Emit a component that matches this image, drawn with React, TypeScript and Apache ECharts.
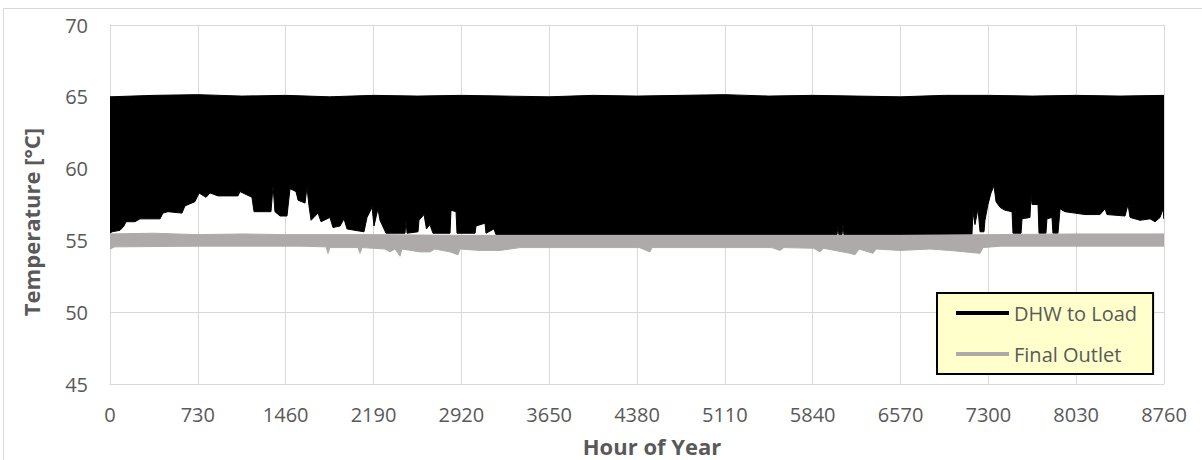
import React, { useEffect, useRef } from 'react';
import * as echarts from 'echarts';

// ---- Data ----
const xMax = 8760;
const xInterval = 730;
const yMin = 45;
const yMax = 70;
const yInterval = 5;

// DHW to Load: the hourly series oscillates rapidly; its upper and lower envelopes
const dhwUpperHours = [0, 365, 730, 1095, 1460, 1825, 2190, 2555, 2920, 3285, 3650, 4015, 4380, 4745, 5110, 5475, 5840, 6205, 6570, 6935, 7300, 7665, 8030, 8395, 8760];
const dhwUpperTemps = [65.0, 65.1, 65.15, 65.05, 65.1, 65.0, 65.1, 65.05, 65.1, 65.05, 65.0, 65.1, 65.05, 65.1, 65.15, 65.05, 65.1, 65.05, 65.0, 65.1, 65.1, 65.05, 65.1, 65.05, 65.1];

const dhwLowerHours = [0, 17, 83, 116, 133, 208, 249, 416, 440, 482, 598, 623, 706, 740, 798, 831, 898, 1064, 1080, 1180, 1197, 1338, 1355, 1371, 1413, 1471, 1496, 1546, 1563, 1621, 1637, 1654, 1671, 1729, 1754, 1828, 1853, 1912, 1945, 1970, 2036, 2111, 2136, 2178, 2194, 2227, 2244, 2294, 2452, 2460, 2469, 2560, 2568, 2610, 2630, 2659, 2684, 2826, 2834, 2876, 2884, 3034, 3042, 3117, 3125, 3191, 3208, 6042, 6050, 6058, 6084, 6092, 6100, 7164, 7172, 7189, 7214, 7231, 7264, 7272, 7297, 7322, 7347, 7364, 7397, 7439, 7497, 7505, 7572, 7580, 7646, 7655, 7663, 7713, 7721, 7779, 7787, 7829, 7837, 7879, 7896, 7937, 8020, 8103, 8228, 8270, 8286, 8436, 8461, 8478, 8561, 8644, 8686, 8727, 8752, 8760];
const dhwLowerTemps = [55.5, 55.6, 55.7, 56.0, 56.3, 56.3, 56.5, 56.5, 56.9, 57.0, 56.9, 57.4, 57.7, 58.3, 58.0, 58.3, 58.1, 58.1, 58.4, 58.0, 57.0, 57.0, 58.8, 57.0, 56.7, 56.7, 58.6, 58.4, 57.8, 57.6, 58.7, 57.4, 56.4, 56.9, 56.3, 56.6, 55.9, 56.0, 56.5, 55.8, 55.7, 55.6, 56.6, 57.3, 56.0, 57.2, 56.4, 55.5, 55.5, 56.4, 55.5, 55.6, 56.4, 56.8, 55.8, 56.1, 55.5, 55.5, 57.1, 57.0, 55.5, 55.5, 56.0, 56.2, 55.5, 55.8, 55.4, 55.4, 56.0, 55.4, 55.4, 56.1, 55.4, 55.4, 57.0, 56.1, 57.2, 55.6, 55.6, 56.4, 57.5, 58.3, 58.8, 57.7, 57.3, 57.1, 57.0, 55.5, 55.5, 56.5, 56.6, 58.2, 57.5, 57.5, 55.5, 55.5, 56.5, 56.6, 55.5, 55.5, 57.2, 57.0, 56.9, 56.8, 56.8, 57.2, 56.8, 56.7, 57.5, 56.6, 56.4, 56.5, 56.3, 56.6, 57.2, 56.5];

// Final Outlet: envelopes of its narrow band around 55 °C
const outletUpperHours = [0, 365, 730, 1095, 1460, 2190, 2920, 3650, 4380, 5110, 5840, 6570, 7300, 8030, 8760];
const outletUpperTemps = [55.45, 55.5, 55.4, 55.45, 55.4, 55.4, 55.35, 55.35, 55.35, 55.35, 55.35, 55.35, 55.4, 55.45, 55.45];

const outletLowerHours = [0, 40, 750, 1580, 1795, 1812, 1828, 2061, 2078, 2095, 2286, 2327, 2369, 2410, 2427, 2576, 2659, 2700, 2826, 2892, 2909, 3075, 3241, 3408, 4400, 4488, 4505, 5500, 5568, 5600, 5850, 5901, 5930, 6151, 6192, 6225, 6341, 6366, 6566, 6815, 6980, 7231, 7256, 7400, 8760];
const outletLowerTemps = [54.4, 54.55, 54.6, 54.6, 54.55, 54.1, 54.5, 54.5, 54.1, 54.5, 54.4, 54.2, 54.4, 53.9, 54.4, 54.2, 54.2, 54.4, 54.2, 54.0, 54.4, 54.3, 54.3, 54.5, 54.5, 54.2, 54.5, 54.5, 54.3, 54.5, 54.45, 54.2, 54.45, 54.1, 54.0, 54.4, 54.1, 54.4, 54.3, 54.4, 54.3, 54.1, 54.5, 54.6, 54.6];

const seriesNames = ['DHW to Load', 'Final Outlet'];
const seriesColors = ['#000000', '#AEAAAA'];

const FONT = '"Open Sans", "Liberation Sans", sans-serif';
const TEXT_COLOR = '#595959';
const GRID_COLOR = '#d9d9d9';

function bandSeries(upperH: number[], upperT: number[], lowerH: number[], lowerT: number[], color: string, z: number) {
  const pts: number[][] = [];
  for (let i = 0; i < upperH.length; i++) pts.push([upperH[i], upperT[i]]);
  for (let i = lowerH.length - 1; i >= 0; i--) pts.push([lowerH[i], lowerT[i]]);
  return {
    type: 'custom',
    silent: true,
    z,
    clip: true,
    data: pts,
    encode: { x: 0, y: 1 },
    renderItem: (params: any, api: any) => {
      if (params.dataIndex !== 0) return null;
      return {
        type: 'polygon',
        shape: { points: pts.map((p) => api.coord(p)) },
        style: { fill: color, stroke: color, lineWidth: 1 },
      };
    },
  };
}

export default function App() {
  const ref = useRef<HTMLDivElement>(null);

  useEffect(() => {
    if (!ref.current) return;
    const chart = echarts.init(ref.current, undefined, { renderer: 'svg' });
    const option: any = {
      animation: false,
      backgroundColor: '#ffffff',
      textStyle: { fontFamily: FONT },
      grid: { left: 110, right: 38, top: 25, bottom: 76 },
      xAxis: {
        type: 'value',
        min: 0,
        max: xMax,
        interval: xInterval,
        axisLine: { show: true, lineStyle: { color: GRID_COLOR, width: 1 } },
        axisTick: { show: false },
        splitLine: { show: true, lineStyle: { color: GRID_COLOR, width: 1 } },
        axisLabel: {
          color: TEXT_COLOR,
          fontSize: 20,
          fontFamily: FONT,
          margin: 20,
          formatter: (v: number) => String(v),
        },
      },
      yAxis: {
        type: 'value',
        min: yMin,
        max: yMax,
        interval: yInterval,
        axisLine: { show: true, lineStyle: { color: GRID_COLOR, width: 1 } },
        axisTick: { show: false },
        splitLine: { show: true, lineStyle: { color: GRID_COLOR, width: 1 } },
        axisLabel: { color: TEXT_COLOR, fontSize: 20, fontFamily: FONT, margin: 22 },
      },
      legend: {
        orient: 'vertical',
        left: 937,
        top: 293,
        data: [
          { name: seriesNames[0], icon: 'rect' },
          { name: seriesNames[1], icon: 'rect' },
        ],
        itemWidth: 53,
        itemHeight: 4,
        itemGap: 21,
        padding: [10, 16, 10, 19],
        backgroundColor: '#FFFFCC',
        borderColor: '#000000',
        borderWidth: 2,
        textStyle: { color: TEXT_COLOR, fontSize: 20, fontFamily: FONT },
      },
      graphic: [
        {
          type: 'rect',
          silent: true,
          shape: { x: 3.5, y: 8.5, width: 1300, height: 600 },
          style: { fill: 'none', stroke: GRID_COLOR, lineWidth: 1 },
          z: -10,
        },
        {
          type: 'text',
          silent: true,
          x: 652,
          y: 446,
          style: {
            text: 'Hour of Year',
            fill: TEXT_COLOR,
            font: `bold 22px ${FONT}`,
            align: 'center',
            verticalAlign: 'middle',
          },
        },
        {
          type: 'text',
          silent: true,
          x: 31,
          y: 222,
          rotation: Math.PI / 2,
          style: {
            text: 'Temperature [°C]',
            fill: TEXT_COLOR,
            font: `bold 22px ${FONT}`,
            align: 'center',
            verticalAlign: 'middle',
          },
        },
      ],
      series: [
        bandSeries(dhwUpperHours, dhwUpperTemps, dhwLowerHours, dhwLowerTemps, seriesColors[0], 2),
        bandSeries(outletUpperHours, outletUpperTemps, outletLowerHours, outletLowerTemps, seriesColors[1], 3),
        { type: 'line', name: seriesNames[0], data: [], color: seriesColors[0], itemStyle: { color: seriesColors[0] }, showSymbol: false },
        { type: 'line', name: seriesNames[1], data: [], color: seriesColors[1], itemStyle: { color: seriesColors[1] }, showSymbol: false },
      ],
    };
    chart.setOption(option);
    return () => chart.dispose();
  }, []);

  return (
    <div
      ref={ref}
      style={{ position: 'absolute', left: 0, top: 0, width: 1202, height: 460 }}
    />
  );
}
